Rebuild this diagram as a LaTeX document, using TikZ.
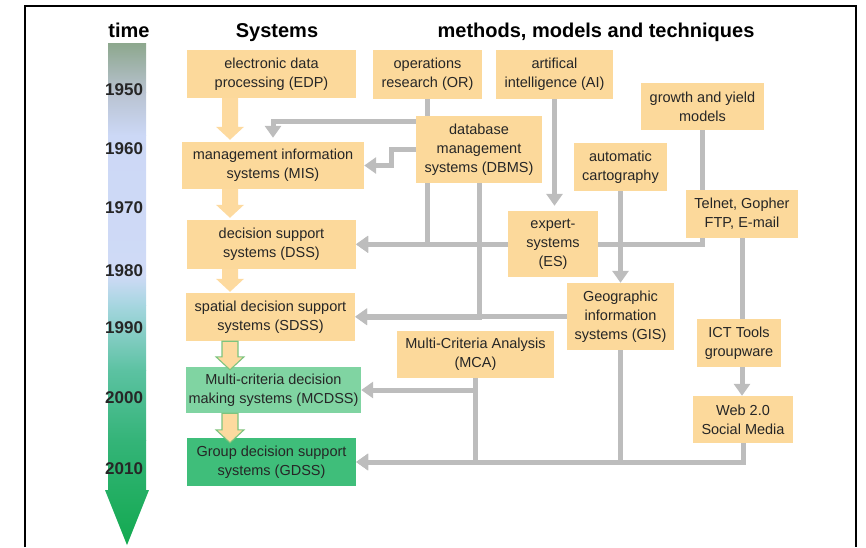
\documentclass[tikz,border=0pt]{standalone}
\usepackage{fontspec}
\setmainfont{Liberation Sans}
\usetikzlibrary{arrows.meta,calc}

\definecolor{boxorange}{HTML}{FCD99B}
\definecolor{flowfill}{HTML}{FDDA9F}
\definecolor{flowedge}{HTML}{7DC47E}
\definecolor{mcgreen}{HTML}{80D4A2}
\definecolor{gdgreen}{HTML}{3FBE7A}
\definecolor{linegray}{HTML}{BDBDBD}
\definecolor{txt}{HTML}{262626}
% time axis colours, top to bottom
\definecolor{ta}{HTML}{8CA78C}
\definecolor{tb}{HTML}{B8C2D0}
\definecolor{tc}{HTML}{CCD8F6}
\definecolor{td}{HTML}{CFDAF6}
\definecolor{te}{HTML}{A6D6E0}
\definecolor{tf}{HTML}{5CC2A2}
\definecolor{tg}{HTML}{34B478}
\definecolor{th}{HTML}{12A94F}

\pgfdeclarelayer{back}
\pgfsetlayers{back,main}

% wide block arrow between two system boxes
% #1 source node, #2 target node, #3 style, #4 tip offset above target top
\newcommand\flowarrow[4]{%
  \path[#3] let \p1=(#1.south), \p2=(#2.north) in
    (222pt,\y1) -- (238pt,\y1) -- (238pt,\y2+#4+13pt) -- (244pt,\y2+#4+13pt)
    -- (230pt,\y2+#4) -- (216pt,\y2+#4+13pt) -- (222pt,\y2+#4+13pt) -- cycle;}

\begin{document}
\begin{tikzpicture}[x=1pt,y=-1pt,
  box/.style={fill=boxorange, inner sep=0pt, align=center, text=txt,
    font=\fontsize{14.5}{19}\selectfont},
  conn/.style={draw=linegray, line width=5pt},
  tip/.style={-{Triangle[width=16pt,length=12pt]}},
  heading/.style={font=\fontsize{20}{24}\selectfont\bfseries, anchor=base, text=black},
  year/.style={font=\fontsize{17}{20}\selectfont\bfseries, anchor=base east, text=txt},
  plainflow/.style={fill=flowfill},
  edgedflow/.style={fill=flowfill, draw=flowedge, line width=1.1pt},
]
\useasboundingbox (0,0) rectangle (866,547);

% frame
\draw[line width=2pt] (25,547) -- (25,6) -- (856,6) -- (856,547);

% time axis
\begin{scope}
  \clip (108,43) -- (146,43) -- (146,490) -- (149,490) -- (127,545)
        -- (105,490) -- (108,490) -- cycle;
  \shade[top color=ta, bottom color=tb] (100,42) rectangle (152,92.5);
  \shade[top color=tb, bottom color=tc] (100,92) rectangle (152,135.5);
  \shade[top color=tc, bottom color=td] (100,135) rectangle (152,275.5);
  \shade[top color=td, bottom color=te] (100,275) rectangle (152,305.5);
  \shade[top color=te, bottom color=tf] (100,305) rectangle (152,370.5);
  \shade[top color=tf, bottom color=tg] (100,370) rectangle (152,440.5);
  \shade[top color=tg, bottom color=th] (100,440) rectangle (152,547);
\end{scope}

% headings
\node[heading] (htime) at (129,37.5) {time};
\node[heading] (hsys) at (277,37.5) {Systems};
\node[heading] (hmeth) at (596,37.5) {methods, models and techniques};

% years
\node[year] (y1950) at (146.5,95) {1950};
\node[year] (y1960) at (146.5,154) {1960};
\node[year] (y1970) at (146.5,213) {1970};
\node[year] (y1980) at (146.5,276) {1980};
\node[year] (y1990) at (146.5,333) {1990};
\node[year] (y2000) at (146.5,403) {2000};
\node[year] (y2010) at (146.5,474) {2010};

% systems
\node[box, minimum width=169pt, minimum height=48pt] (edp) at (271.5,74) {electronic data\\processing (EDP)};
\node[box, minimum width=182pt, minimum height=47pt] (mis) at (273,165.5) {management information\\systems (MIS)};
\node[box, minimum width=169pt, minimum height=49pt] (dss) at (271.5,244.5) {decision support\\systems (DSS)};
\node[box, minimum width=169pt, minimum height=48pt] (sdss) at (270.5,317) {spatial decision support\\systems (SDSS)};
\node[box, fill=mcgreen, minimum width=175pt, minimum height=46pt] (mcdss) at (273.5,390) {Multi-criteria decision\\making systems (MCDSS)};
\node[box, fill=gdgreen, minimum width=169pt, minimum height=48pt] (gdss) at (271.5,462) {Group decision support\\systems (GDSS)};

% methods, models and techniques
\node[box, minimum width=109pt, minimum height=49pt] (or) at (427.5,74.5) {operations\\research (OR)};
\node[box, minimum width=117pt, minimum height=49pt] (ai) at (554.5,74.5) {artifical\\intelligence (AI)};
\node[box, minimum width=123pt, minimum height=47pt] (growth) at (702.5,106.5) {growth and yield\\models};
\node[box, minimum width=126pt, minimum height=67pt] (dbms) at (479,149.5) {database\\management\\systems (DBMS)};
\node[box, minimum width=93pt, minimum height=48pt] (auto) at (620.5,167) {automatic\\cartography};
\node[box, minimum width=112pt, minimum height=48pt] (telnet) at (742,214) {Telnet, Gopher\\FTP, E-mail};
\node[box, minimum width=90pt, minimum height=66pt] (es) at (553,244) {expert-\\systems\\(ES)};
\node[box, minimum width=107pt, minimum height=67pt] (gis) at (620.5,316.5) {Geographic\\information\\systems (GIS)};
\node[box, minimum width=84pt, minimum height=48pt] (ict) at (739,343) {ICT Tools\\groupware};
\node[box, minimum width=157pt, minimum height=47pt] (mca) at (475.5,354.5) {Multi-Criteria Analysis\\(MCA)};
\node[box, minimum width=100pt, minimum height=47pt] (web) at (743,419.5) {Web 2.0\\Social Media};

% flow between systems
\flowarrow{edp}{mis}{plainflow}{2pt}
\flowarrow{mis}{dss}{plainflow}{2pt}
\flowarrow{dss}{sdss}{plainflow}{1pt}
\flowarrow{sdss}{mcdss}{edgedflow}{-3pt}
\flowarrow{mcdss}{gdss}{edgedflow}{-5pt}

% connectors behind the boxes
\coordinate (orturn) at (427.5,121);
\begin{pgfonlayer}{back}
  \draw[conn,tip,shorten >=4pt] (or.south) -- (orturn) -| (mis.north);
  \draw[conn,tip] (or.south) |- (dss.east);
  \draw[conn,tip] (dbms.west) -- ++(-24,0) |- (mis.east);
  \draw[conn,tip] (dbms.south) |- (sdss.east);
  \draw[conn,tip,shorten >=5pt] (ai.south) -- (ai.south |- es.north);
  \draw[conn,tip] (growth.south) |- (dss.east);
  \draw[conn,tip] (es.west) -- (es.west -| dss.east);
  \draw[conn,tip] (auto.south) -- (gis.north);
  \draw[conn,tip] (gis.west) -- (gis.west -| sdss.east);
  \draw[conn] (telnet.south) -- (telnet.south |- ict.north);
  \draw[conn,tip] (telnet.south |- ict.south) -- (telnet.south |- web.north);
  \draw[conn,tip] (mca.south) |- (mcdss.east);
  \draw[conn,tip] (mca.south) |- (gdss.east);
  \draw[conn,tip] (gis.south) |- (gdss.east);
  \draw[conn,tip] (web.south) |- (gdss.east);
\end{pgfonlayer}
\end{tikzpicture}
\end{document}
